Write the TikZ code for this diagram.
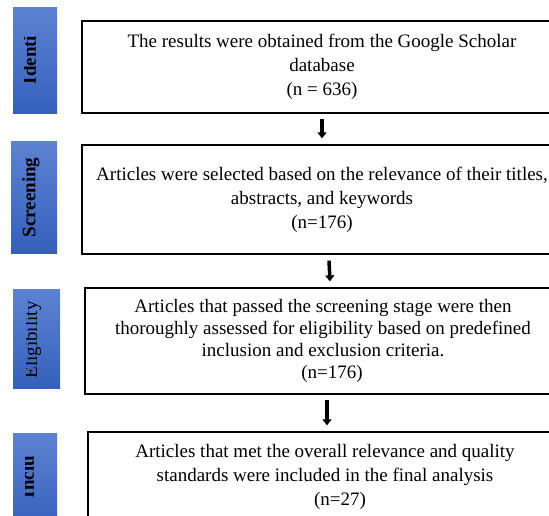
\documentclass[tikz,border=0pt]{standalone}
\usepackage{fontspec}
\setmainfont{Liberation Serif}
\usetikzlibrary{arrows.meta}
\definecolor{labtop}{RGB}{94,130,210}
\definecolor{labbot}{RGB}{52,96,188}
\begin{document}
\begin{tikzpicture}[x=1pt,y=-1pt,
  box/.style={draw=black,line width=1.3pt,align=center,inner sep=0pt,
    font=\fontsize{19}{24}\selectfont},
  lab/.style={top color=labtop,bottom color=labbot,draw=none},
  labtext/.style={rotate=90,inner sep=0pt,font=\fontsize{19}{19}\selectfont\bfseries},
  arr/.style={line width=3.5pt,-{Triangle[width=9pt,length=6pt]}}]
\useasboundingbox (0,0) rectangle (549,515);
\clip (0,0) rectangle (549,515);
% side labels
\shade[lab] (13,7) rectangle (57,113);
\shade[lab] (11,141) rectangle (57,253);
\shade[lab] (13,289) rectangle (60,388);
\shade[lab] (13,433) rectangle (57,530);
\begin{scope}
  \clip (24.5,7) rectangle (57,113);
  \node[labtext] (l1) at (29.5,60) {Identi};
\end{scope}
\node[labtext] (l2) at (31,197.5) {Screening};
\begin{scope}
  \clip (26,289) rectangle (60,388);
  \node[labtext,font=\fontsize{19}{19}\selectfont] (l3) at (32.5,340) {Eligibility};
\end{scope}
\begin{scope}
  \clip (25,433) rectangle (57,515);
  \node[labtext] (l4) at (27.5,477) {Inclu};
\end{scope}
% boxes
\node[box,minimum width=480pt,minimum height=92pt] (b1) at (322,67)
  {The results were obtained from the Google Scholar\\database\\(n = 636)};
\node[box,minimum width=480pt,minimum height=109pt] (b2) at (322,199.5)
  {Articles were selected based on the relevance of their titles,\\abstracts, and keywords\\(n=176)};
\node[box,minimum width=476pt,minimum height=106pt,font=\fontsize{19}{22}\selectfont] (b3) at (323,341)
  {Articles that passed the screening stage were then\\thoroughly assessed for eligibility based on predefined\\inclusion and exclusion criteria.\\\hspace*{18pt}(n=176)};
\node[box,minimum width=474pt,minimum height=90pt] (b4) at (325,477)
  {Articles that met the overall relevance and quality\\standards were included in the final analysis\\\hspace*{30pt}(n=27)};
% arrows
\draw[arr] ([yshift=-5pt]b1.south) -- ([yshift=6pt]b2.north);
\draw[arr] ([xshift=7pt,yshift=-6pt]b2.south) -- ([xshift=7pt,yshift=6pt]b3.north);
\draw[arr] ([xshift=4pt,yshift=-5pt]b3.south) -- ([xshift=2pt,yshift=6pt]b4.north);
\end{tikzpicture}
\end{document}
